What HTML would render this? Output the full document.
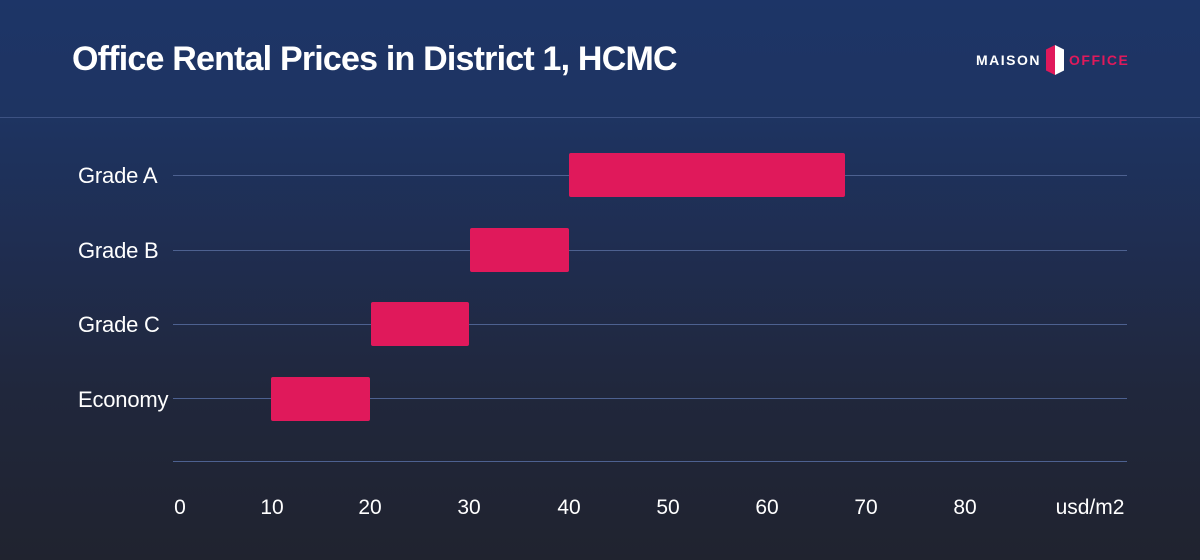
<!DOCTYPE html>
<html><head><meta charset="utf-8"><style>
body{margin:0}
#c{position:relative;width:1200px;height:560px;overflow:hidden;font-family:"Liberation Sans",sans-serif;
background:linear-gradient(180deg,#1d3567 0%,#1e3462 20%,#1f2d50 45%,#20273c 70%,#20232f 100%);}
.t{position:absolute;color:#fff}
.g{position:absolute;left:173px;width:954px;height:1px;background:#4d6190}
.bar{position:absolute;height:44px;background:#e0195b;border-radius:2px}
.yl{position:absolute;left:78px;color:#fff;font-size:22px;letter-spacing:-0.2px}
.xl{position:absolute;top:496px;color:#fff;font-size:21px;transform:translateX(-50%)}
</style></head><body><div id="c">
<div class="t" style="left:72px;top:40px;font-size:34px;font-weight:bold;letter-spacing:-0.8px">Office Rental Prices in District 1, HCMC</div>
<div style="position:absolute;left:0;top:117px;width:1200px;height:1px;background:#3d5283"></div>
<div class="t" style="left:976px;top:52px;font-size:14px;font-weight:bold;letter-spacing:1.5px">MAISON</div>
<div style="position:absolute;left:1046px;top:45px;width:9px;height:30px;background:#e0195b;clip-path:polygon(0 15%,100% 0,100% 100%,0 85%)"></div>
<div style="position:absolute;left:1055px;top:45px;width:9px;height:30px;background:#fff;clip-path:polygon(0 0,100% 15%,100% 85%,0 100%)"></div>
<div class="t" style="left:1069px;top:52px;font-size:14px;font-weight:bold;letter-spacing:1.5px;color:#e0195b">OFFICE</div>
<div class="g" style="top:175px"></div>
<div class="g" style="top:250px"></div>
<div class="g" style="top:324px"></div>
<div class="g" style="top:398px"></div>
<div class="g" style="top:461px"></div>
<div class="bar" style="left:569px;width:276px;top:153px"></div>
<div class="bar" style="left:470px;width:99px;top:228px"></div>
<div class="bar" style="left:371px;width:98px;top:302px"></div>
<div class="bar" style="left:271px;width:99px;top:377px"></div>
<div class="yl" style="top:163px">Grade A</div>
<div class="yl" style="top:238px">Grade B</div>
<div class="yl" style="top:312px">Grade C</div>
<div class="yl" style="top:387px">Economy</div>
<div class="xl" style="left:180px">0</div>
<div class="xl" style="left:272px">10</div>
<div class="xl" style="left:370px">20</div>
<div class="xl" style="left:469px">30</div>
<div class="xl" style="left:569px">40</div>
<div class="xl" style="left:668px">50</div>
<div class="xl" style="left:767px">60</div>
<div class="xl" style="left:866px">70</div>
<div class="xl" style="left:965px">80</div>
<div class="xl" style="left:1090px">usd/m2</div>
</div></body></html>
